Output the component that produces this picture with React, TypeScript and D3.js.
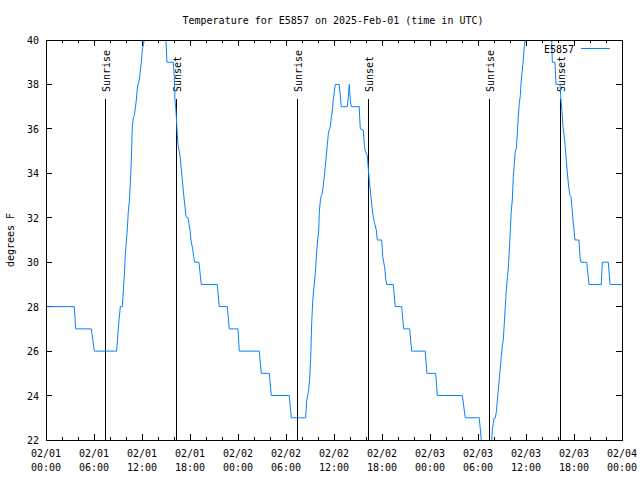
import * as d3 from 'd3'

// hours since 02/01 00:00 UTC, and temperature (degrees F)
const hours = [
  0, 3.54, 3.71, 5.67, 5.85, 6.04, 8.83, 9.08, 9.29, 9.54, 9.79, 9.91, 10.16, 10.29, 10.41, 10.54,
  10.66, 10.79, 10.91, 11.04, 11.16, 11.29, 11.41, 11.54, 11.66, 11.79, 11.91, 12.04, 12.29, 13.6,
  15.0, 15.12, 15.91, 16.04, 16.12, 16.25, 16.37, 16.5, 16.75, 17.0, 17.25, 17.5, 17.75, 18.0,
  18.12, 18.33, 18.46, 18.59, 19.12, 19.29, 19.41, 21.41, 21.66, 22.66, 22.91, 24.0, 24.16, 26.66,
  26.91, 27.91, 28.16, 30.41, 30.66, 32.46, 32.58, 32.71, 32.84, 32.96, 33.09, 33.21, 33.34, 33.46,
  33.59, 33.71, 33.84, 33.96, 34.09, 34.17, 34.29, 34.41, 34.54, 34.79, 34.91, 35.04, 35.16, 35.29,
  35.41, 35.54, 35.66, 35.79, 35.91, 36.04, 36.16, 36.66, 36.91, 37.66, 37.79, 37.91, 38.04, 38.16,
  39.16, 39.21, 39.29, 39.66, 39.79, 39.91, 40.16, 40.29, 40.41, 40.54, 40.66, 40.79, 40.91, 41.04,
  41.29, 41.41, 41.96, 42.09, 42.21, 42.34, 42.46, 42.59, 43.41, 43.66, 44.46, 44.71, 45.46, 45.71,
  47.4, 47.62, 48.71, 48.92, 52.04, 52.41, 54.16, 54.41, 54.6, 55.55, 55.79, 55.91, 56.04, 56.16,
  56.29, 56.41, 56.54, 56.66, 56.79, 56.91, 57.04, 57.16, 57.29, 57.41, 57.54, 57.66, 57.79, 57.91,
  58.04, 58.16, 58.29, 58.41, 58.54, 58.66, 58.79, 58.91, 59.04, 59.16, 59.29, 59.41, 59.54, 59.66,
  59.79, 59.91, 61.5, 63.21, 63.29, 63.62, 63.75, 64.25, 64.37, 64.5, 64.62, 64.75, 64.87, 65.0,
  65.12, 65.25, 65.37, 65.5, 65.62, 65.75, 65.87, 66.0, 66.12, 66.62, 66.75, 66.87, 67.59, 67.87,
  69.41, 69.54, 70.29, 70.5, 72,
]
const temps = [
  28, 28, 27, 27, 26.5, 26, 26, 27.2, 28, 28, 29.4, 30.3, 31.45, 32.3, 32.7, 33.55,
  34.5, 36.1, 36.5, 36.6, 36.9, 37.3, 37.8, 38.05, 38.2, 38.6, 39.0, 39.55, 40, 42.5,
  40, 39, 39, 38.35, 37.3, 36.8, 36, 35.3, 34.8, 33.85, 32.9, 32.05, 32, 31.45,
  31, 30.6, 30.25, 30, 30, 29.4, 29, 29, 28, 28, 27, 27, 26, 26,
  25, 25, 24, 24, 23, 23, 23.75, 24, 24.25, 24.75, 25.75, 27.25, 28.25, 28.75,
  29.25, 29.75, 30.5, 31, 31.45, 32.3, 32.75, 33, 33.1, 33.85, 34.3, 34.8, 35.25, 35.77,
  35.97, 36.1, 36.5, 36.8, 37.3, 37.67, 38, 38, 37, 37, 37.45, 38, 37.3, 37,
  37, 36.5, 36, 35.95, 35.3, 35, 34.8, 34.2, 33.7, 33.25, 32.8, 32.35, 32.05, 31.8,
  31.45, 31, 31, 30.25, 30, 29.75, 29.25, 29, 29, 28, 28, 27, 27, 26,
  26, 25, 25, 24, 24, 23, 23, 22, 21, 21, 22.45, 22.75, 23, 23,
  23.25, 23.75, 24.25, 24.75, 25.25, 25.75, 26.25, 26.5, 27.25, 28, 28.75, 29.25, 29.75, 30.5,
  31.45, 32.3, 32.8, 33.85, 34.45, 35, 35.1, 35.77, 36.55, 37.15, 37.5, 38.2, 38.65, 39.1,
  39.7, 40, 44, 40, 39, 39, 38, 38, 37.3, 36.8, 36.1, 35.75, 35.3, 34.75,
  34.2, 33.7, 33.3, 33, 32.95, 32.45, 31.9, 31.45, 31, 31, 30.25, 30, 30, 29,
  29, 30, 30, 29, 29,
]

const sunriseHours = [7.42, 31.42, 55.42]
const sunsetHours = [16.29, 40.29, 64.29]

const yTicks = [22, 24, 26, 28, 30, 32, 34, 36, 38, 40]
const xTickHours = [0, 6, 12, 18, 24, 30, 36, 42, 48, 54, 60, 66, 72]
const xTickDates = ['02/01', '02/01', '02/01', '02/01', '02/02', '02/02', '02/02', '02/02', '02/03', '02/03', '02/03', '02/03', '02/04']
const xTickTimes = ['00:00', '06:00', '12:00', '18:00', '00:00', '06:00', '12:00', '18:00', '00:00', '06:00', '12:00', '18:00', '00:00']

const W = 640
const H = 480
const left = 46
const right = 622
const top = 40
const bottom = 440
const lineColor = '#0a80ff'
const font = "'DejaVu Sans Mono', 'Liberation Mono', monospace"

export default function App() {
  const x = d3.scaleLinear().domain([0, 72]).range([left, right])
  const y = d3.scaleLinear().domain([22, 40]).range([bottom, top])

  const pts = hours.map((h, i) => [h, temps[i]] as [number, number])
  const line = d3.line<[number, number]>()
    .x(d => x(d[0]))
    .y(d => y(d[1]))

  const minorHours = d3.range(0, 73, 2).filter(h => h % 6 !== 0)

  return (
    <div style={{ position: 'absolute', left: 0, top: 0 }}>
      <svg width={W} height={H} style={{ display: 'block', background: '#fff' }} fontFamily={font} fontSize={10}>
        <defs>
          <clipPath id="plotclip">
            <rect x={left} y={top} width={right - left} height={bottom - top} />
          </clipPath>
        </defs>

        <text x={333} y={24} textAnchor="middle" fill="#000">Temperature for E5857 on 2025-Feb-01 (time in UTC)</text>

        {/* y ticks both sides */}
        <g stroke="#000" shapeRendering="crispEdges">
          {yTicks.map(t => (
            <g key={'y' + t}>
              <line x1={left} x2={left + 6} y1={y(t)} y2={y(t)} />
              <line x1={right - 6} x2={right} y1={y(t)} y2={y(t)} />
            </g>
          ))}
          {xTickHours.map(h => (
            <g key={'x' + h}>
              <line x1={x(h)} x2={x(h)} y1={bottom} y2={bottom - 6} />
              <line x1={x(h)} x2={x(h)} y1={top} y2={top + 6} />
            </g>
          ))}
          {minorHours.map(h => (
            <g key={'m' + h}>
              <line x1={x(h)} x2={x(h)} y1={bottom} y2={bottom - 3} />
              <line x1={x(h)} x2={x(h)} y1={top} y2={top + 3} />
            </g>
          ))}
        </g>

        {yTicks.map(t => (
          <text key={'yl' + t} x={39} y={y(t) + 4} textAnchor="end" fill="#000">{t}</text>
        ))}
        {xTickHours.map((h, i) => (
          <g key={'xl' + h}>
            <text x={x(h)} y={457} textAnchor="middle" fill="#000">{xTickDates[i]}</text>
            <text x={x(h)} y={471} textAnchor="middle" fill="#000">{xTickTimes[i]}</text>
          </g>
        ))}

        <text transform="translate(14,240) rotate(-90)" textAnchor="middle" fill="#000">degrees F</text>

        {/* sunrise / sunset markers */}
        {sunriseHours.map(h => (
          <g key={'sr' + h}>
            <line x1={x(h)} x2={x(h)} y1={99} y2={bottom} stroke="#000" shapeRendering="crispEdges" />
            <text transform={`translate(${x(h) + 5},92) rotate(-90)`} fill="#000">Sunrise</text>
          </g>
        ))}
        {sunsetHours.map(h => (
          <g key={'ss' + h}>
            <line x1={x(h)} x2={x(h)} y1={99} y2={bottom} stroke="#000" shapeRendering="crispEdges" />
            <text transform={`translate(${x(h) + 5},92) rotate(-90)`} fill="#000">Sunset</text>
          </g>
        ))}

        <path d={line(pts) || ''} fill="none" stroke={lineColor} strokeWidth={1} clipPath="url(#plotclip)" />

        {/* legend */}
        <text x={574} y={53} textAnchor="end" fill="#000">E5857</text>
        <line x1={581} x2={610} y1={48} y2={48} stroke={lineColor} shapeRendering="crispEdges" />

        <rect x={left} y={top} width={right - left} height={bottom - top} fill="none" stroke="#000" shapeRendering="crispEdges" />
      </svg>
    </div>
  )
}
